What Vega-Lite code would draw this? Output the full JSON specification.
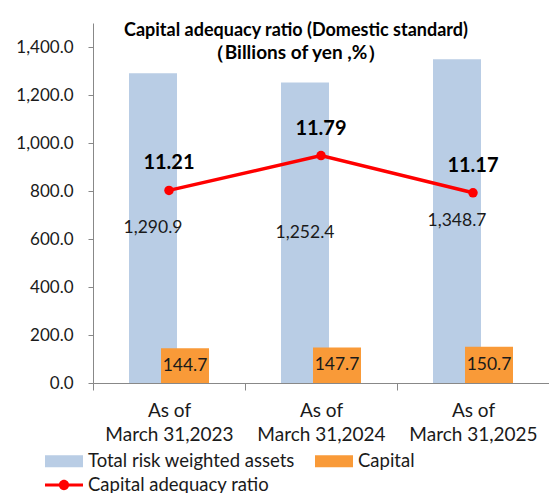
{
  "$schema": "https://vega.github.io/schema/vega-lite/v6.json",
  "width": 456,
  "height": 360,
  "autosize": {"type": "none"},
  "padding": {"left": 93, "top": 23, "right": 0, "bottom": 110},
  "background": "white",
  "config": {"font": "Lato", "view": {"stroke": null}},
  "title": {
    "text": "Capital adequacy ratio (Domestic standard)",
    "subtitle": "（Billions of yen ,%）",
    "fontSize": 18,
    "fontWeight": "bold",
    "font": "Lato",
    "subtitleFont": "Lato",
    "subtitleFontSize": 19,
    "subtitleFontWeight": "bold",
    "subtitleColor": "#000000",
    "subtitlePadding": 4,
    "anchor": "middle",
    "frame": "group",
    "dx": -25,
    "offset": -40,
    "color": "#000000"
  },
  "datasets": {
    "bars": [
      {"period": "As of March 31,2023", "series": "Total risk weighted assets", "value": 1290.9},
      {"period": "As of March 31,2024", "series": "Total risk weighted assets", "value": 1252.4},
      {"period": "As of March 31,2025", "series": "Total risk weighted assets", "value": 1348.7},
      {"period": "As of March 31,2023", "series": "Capital", "value": 144.7},
      {"period": "As of March 31,2024", "series": "Capital", "value": 147.7},
      {"period": "As of March 31,2025", "series": "Capital", "value": 150.7}
    ],
    "ratio": [
      {"period": "As of March 31,2023", "series": "Capital adequacy ratio", "ratio": 11.21},
      {"period": "As of March 31,2024", "series": "Capital adequacy ratio", "ratio": 11.79},
      {"period": "As of March 31,2025", "series": "Capital adequacy ratio", "ratio": 11.17}
    ]
  },
  "layer": [
    {
      "data": {"name": "bars"},
      "encoding": {
        "x": {
          "field": "period", "type": "nominal", "sort": null,
          "scale": {"paddingInner": 0, "paddingOuter": 0},
          "axis": {
            "title": null, "labelAngle": 0, "tickBand": "extent", "tickSize": 7,
            "domainColor": "#888888", "tickColor": "#888888", "labelFontSize": 19,
            "labelLineHeight": 24, "labelPadding": 11, "labelColor": "#1a1a1a",
            "labelFont": "Lato",
            "labelExpr": "isValid(datum.value) ? [substring(datum.value,0,5), substring(datum.value,6)] : ''"
          }
        },
        "y": {
          "field": "value", "type": "quantitative",
          "scale": {"domain": [0, 1500], "nice": false},
          "axis": {
            "title": null, "grid": false, "values": [0, 200, 400, 600, 800, 1000, 1200, 1400],
            "format": ",.1f", "domainColor": "#888888", "tickColor": "#888888", "tickSize": 5,
            "labelFontSize": 17, "labelPadding": 15, "labelColor": "#1a1a1a", "labelFont": "Lato"
          }
        },
        "color": {
          "field": "series", "type": "nominal",
          "scale": {"domain": ["Total risk weighted assets", "Capital"], "range": ["#B9CDE5", "#F99A38"]},
          "legend": {
            "title": null, "orient": "none", "legendX": -48, "legendY": 419,
            "direction": "horizontal", "padding": 0, "offset": 0,
            "symbolType": "M-1,-0.32H1V0.32H-1Z", "symbolSize": 1444, "symbolStrokeWidth": 0,
            "labelFontSize": 18.5, "labelOffset": 5, "columnPadding": 20, "labelColor": "#1a1a1a",
            "labelFont": "Lato", "labelLimit": 400
          }
        }
      },
      "layer": [
        {
          "transform": [{"filter": "datum.series == 'Total risk weighted assets'"}],
          "mark": {"type": "bar", "width": 48, "xOffset": -16}
        },
        {
          "transform": [{"filter": "datum.series == 'Capital'"}],
          "mark": {"type": "bar", "width": 48, "xOffset": 16}
        }
      ]
    },
    {
      "data": {"name": "bars"},
      "transform": [{"filter": "datum.series == 'Total risk weighted assets'"}],
      "mark": {"type": "text", "fontSize": 17.5, "color": "#1a1a1a", "baseline": "middle", "font": "Lato", "dx": -16},
      "encoding": {
        "x": {"field": "period", "type": "nominal", "sort": null},
        "y": {"field": "value", "type": "quantitative", "scale": {"domain": [0, 3000], "nice": false}, "axis": null},
        "text": {"field": "value", "type": "quantitative", "format": ",.1f"}
      }
    },
    {
      "data": {"name": "bars"},
      "transform": [{"filter": "datum.series == 'Capital'"}],
      "mark": {"type": "text", "fontSize": 17.5, "color": "#1a1a1a", "baseline": "middle", "font": "Lato", "dx": 16},
      "encoding": {
        "x": {"field": "period", "type": "nominal", "sort": null},
        "y": {"field": "value", "type": "quantitative", "scale": {"domain": [0, 3000], "nice": false}, "axis": null},
        "text": {"field": "value", "type": "quantitative", "format": ",.1f"}
      }
    },
    {
      "data": {"name": "ratio"},
      "mark": {"type": "line", "strokeWidth": 3.5, "point": {"filled": true, "size": 90}},
      "encoding": {
        "x": {"field": "period", "type": "nominal", "sort": null},
        "y": {"field": "ratio", "type": "quantitative", "scale": {"domain": [8, 14], "nice": false, "zero": false}, "axis": null},
        "color": {
          "field": "series", "type": "nominal",
          "scale": {"domain": ["Capital adequacy ratio"], "range": ["#FF0000"]},
          "legend": {
            "title": null, "orient": "none", "legendX": -48, "legendY": 443,
            "padding": 0, "offset": 0,
            "symbolType": "M-1,-0.08H1V0.08H-1Z M-0.27,0A0.27,0.27 0 1 1 0.27,0A0.27,0.27 0 1 1 -0.27,0Z",
            "symbolSize": 1444, "symbolStrokeWidth": 0, "symbolFillColor": "#FF0000",
            "labelFontSize": 18.5, "labelOffset": 5, "labelColor": "#1a1a1a", "labelFont": "Lato",
            "labelLimit": 400
          }
        }
      }
    },
    {
      "data": {"name": "ratio"},
      "mark": {"type": "text", "fontSize": 20, "fontWeight": "bold", "color": "#000000", "dy": -27, "baseline": "middle", "font": "Lato"},
      "encoding": {
        "x": {"field": "period", "type": "nominal", "sort": null},
        "y": {"field": "ratio", "type": "quantitative", "scale": {"domain": [8, 14], "nice": false, "zero": false}, "axis": null},
        "text": {"field": "ratio", "type": "quantitative", "format": ".2f"}
      }
    }
  ],
  "resolve": {"scale": {"y": "independent", "color": "independent"}}
}
